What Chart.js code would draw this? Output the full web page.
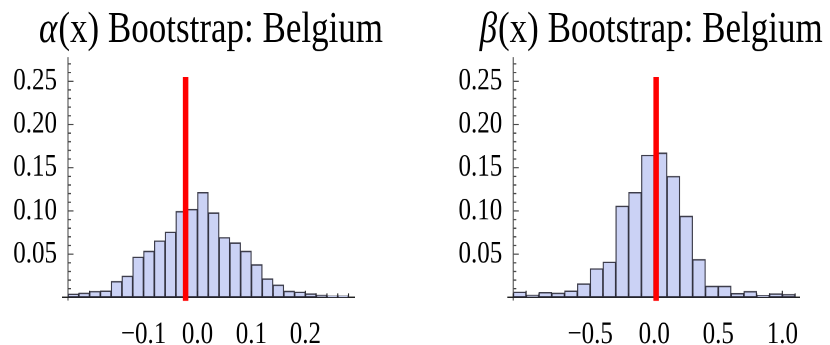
<!DOCTYPE html>
<html>
<head>
<meta charset="utf-8">
<script src="https://cdn.jsdelivr.net/npm/chart.js@4.4.0/dist/chart.umd.min.js"></script>
<style>
  html, body { margin: 0; padding: 0; background: #ffffff; }
  body { width: 830px; height: 345px; position: relative; overflow: hidden; }
  .wrap { position: absolute; top: 0; width: 415px; height: 276px; transform: scaleY(1.25); transform-origin: 0 0; }
  canvas { display: block; }
</style>
</head>
<body>
<div class="wrap" style="left:0px"><canvas id="alphaChart" width="415" height="276"></canvas></div>
<div class="wrap" style="left:415px"><canvas id="betaChart" width="415" height="276"></canvas></div>
<script>
// ---- data ----
const alphaBins = [-0.23,-0.21,-0.19,-0.17,-0.15,-0.13,-0.11,-0.09,-0.07,-0.05,-0.03,-0.01,0.01,0.03,0.05,0.07,0.09,0.11,0.13,0.15,0.17,0.19,0.21,0.23,0.25,0.27];
const alphaFreq = [0.0040,0.0050,0.0070,0.0077,0.0185,0.0247,0.0467,0.0536,0.0656,0.0756,0.0995,0.1020,0.1215,0.0980,0.0694,0.0633,0.0536,0.0380,0.0216,0.0143,0.0073,0.0062,0.0042,0.0027,0.0019,0.0019];
const betaBins = [-1.05,-0.95,-0.85,-0.75,-0.65,-0.55,-0.45,-0.35,-0.25,-0.15,-0.05,0.05,0.15,0.25,0.35,0.45,0.55,0.65,0.75,0.85,0.95,1.05];
const betaFreq = [0.0062,0.0027,0.0058,0.0050,0.0077,0.0158,0.0332,0.0409,0.1057,0.1215,0.1644,0.1670,0.1400,0.0940,0.0440,0.0131,0.0131,0.0046,0.0069,0.0023,0.0042,0.0035];
const alphaRef = -0.022;
const betaRef = 0.015;
const refLineSpan = [-0.004, 0.255];

const yTickLabels = [0.05, 0.10, 0.15, 0.20, 0.25];
const yMinorTicks = [0.01,0.02,0.03,0.04,0.06,0.07,0.08,0.09,0.11,0.12,0.13,0.14,0.16,0.17,0.18,0.19,0.21,0.22,0.23,0.24,0.26,0.27];
const alphaTickLabels = [-0.1, 0.0, 0.1, 0.2];
const alphaMajorTicks = [-0.2, -0.1, 0.0, 0.1, 0.2];
const alphaMinorTicks = [-0.22,-0.18,-0.16,-0.14,-0.12,-0.08,-0.06,-0.04,-0.02,0.02,0.04,0.06,0.08,0.12,0.14,0.16,0.18,0.22,0.24,0.26,0.28];
const betaTickLabels = [-0.5, 0.0, 0.5, 1.0];
const betaMajorTicks = [-1.0, -0.5, 0.0, 0.5, 1.0];
const betaMinorTicks = [-1.1,-0.9,-0.8,-0.7,-0.6,-0.4,-0.3,-0.2,-0.1,0.1,0.2,0.3,0.4,0.6,0.7,0.8,0.9,1.1];

const alphaTitle = ['α', '(x) Bootstrap: Belgium'];
const betaTitle = ['β', '(x) Bootstrap: Belgium'];

// ---- plugin: Mathematica-style axes and title ----
const mmaPlugin = {
  id: 'mma',
  beforeDatasetsDraw(chart, args, o) {
    const { ctx, chartArea: a, scales: { x, y } } = chart;
    ctx.save();
    // y axis
    ctx.strokeStyle = '#777777';
    ctx.lineWidth = 1.4;
    ctx.beginPath();
    ctx.moveTo(a.left, a.top);
    ctx.lineTo(a.left, a.bottom + 2.5);
    ctx.stroke();
    ctx.strokeStyle = '#444444';
    ctx.lineWidth = 1;
    o.yMinor.forEach(v => {
      const p = y.getPixelForValue(v);
      ctx.beginPath(); ctx.moveTo(a.left, p); ctx.lineTo(a.left + 3, p); ctx.stroke();
    });
    o.yMajor.forEach(v => {
      const p = y.getPixelForValue(v);
      ctx.beginPath(); ctx.moveTo(a.left, p); ctx.lineTo(a.left + 5.5, p); ctx.stroke();
    });
    // x axis
    ctx.strokeStyle = '#222222';
    ctx.lineWidth = 1.3;
    ctx.beginPath();
    ctx.moveTo(a.left - 6, a.bottom);
    ctx.lineTo(a.right, a.bottom);
    ctx.stroke();
    ctx.lineWidth = 1.1;
    o.xMinor.forEach(v => {
      const p = x.getPixelForValue(v);
      ctx.beginPath(); ctx.moveTo(p, a.bottom); ctx.lineTo(p, a.bottom - 3.2); ctx.stroke();
    });
    o.xMajor.forEach(v => {
      const p = x.getPixelForValue(v);
      ctx.beginPath(); ctx.moveTo(p, a.bottom); ctx.lineTo(p, a.bottom - 5.4); ctx.stroke();
    });
    ctx.restore();
  },
  afterDraw(chart, args, o) {
    const { ctx, chartArea: a } = chart;
    ctx.save();
    const fItal = 'italic 35px "Liberation Serif"';
    const fNorm = '35px "Liberation Serif"';
    ctx.font = fItal;
    const w1 = ctx.measureText(o.title[0]).width;
    ctx.font = fNorm;
    const w2 = ctx.measureText(o.title[1]).width;
    const cx = (a.left + a.right) / 2 + o.titleShift;
    let x0 = cx - (w1 + w2) / 2;
    ctx.fillStyle = '#000000';
    ctx.textBaseline = 'alphabetic';
    ctx.textAlign = 'left';
    ctx.font = fItal;
    ctx.fillText(o.title[0], x0, 33.6);
    ctx.font = fNorm;
    ctx.fillText(o.title[1], x0 + w1 + 1, 33.6);
    ctx.restore();
  }
};

function fmtX(v) {
  const s = Math.abs(v).toFixed(1);
  return v < -1e-9 ? '\u2212' + s : s;
}

function makeChart(id, bins, freq, ref, xmin, xmax, labels, majors, minors, title, yAxisWidth, padRight, titleShift) {
  const tickFont = { family: '"Liberation Serif"', size: 25 };
  return new Chart(document.getElementById(id), {
    type: 'bar',
    data: {
      datasets: [
        {
          type: 'line',
          order: 0,
          data: refLineSpan.map(v => ({ x: ref, y: v })),
          borderColor: '#ff0000',
          borderWidth: 5.5,
          pointRadius: 0,
          clip: false,
          fill: false
        },
        {
          type: 'bar',
          order: 1,
          data: bins.map((b, i) => ({ x: b, y: freq[i] })),
          backgroundColor: '#cbd2f5',
          borderColor: 'rgba(40,40,55,0.9)',
          borderWidth: 1.2,
          borderSkipped: false,
          barPercentage: 1.0,
          categoryPercentage: 1.0,
          grouped: false
        }
      ]
    },
    options: {
      responsive: false,
      animation: false,
      devicePixelRatio: 2,
      layout: { padding: { top: 45.6, right: padRight, bottom: 0, left: 0 } },
      plugins: {
        legend: { display: false },
        tooltip: { enabled: false },
        mma: { yMajor: yTickLabels, yMinor: yMinorTicks, xMajor: majors, xMinor: minors, title: title, titleShift: titleShift }
      },
      scales: {
        x: {
          type: 'linear',
          min: xmin,
          max: xmax,
          offset: false,
          grid: { display: false, drawTicks: false },
          border: { display: false },
          afterBuildTicks: s => { s.ticks = labels.map(v => ({ value: v })); },
          afterFit: s => { s.height = 38.1; },
          ticks: { font: tickFont, color: '#000000', padding: 15, autoSkip: false, maxRotation: 0, callback: v => fmtX(v) }
        },
        y: {
          type: 'linear',
          min: 0,
          max: 0.278,
          grid: { display: false, drawTicks: false },
          border: { display: false },
          afterBuildTicks: s => { s.ticks = yTickLabels.map(v => ({ value: v })); },
          afterFit: s => { s.width = yAxisWidth; },
          ticks: { font: tickFont, color: '#000000', padding: 11, autoSkip: false, callback: v => v.toFixed(2) }
        }
      }
    },
    plugins: [mmaPlugin]
  });
}

makeChart('alphaChart', alphaBins, alphaFreq, alphaRef, -0.24, 0.292, alphaTickLabels, alphaMajorTicks, alphaMinorTicks, alphaTitle, 68, 60, -1);
makeChart('betaChart', betaBins, betaFreq, betaRef, -1.1, 1.138, betaTickLabels, betaMajorTicks, betaMinorTicks, betaTitle, 98.3, 30, -6);
</script>
</body>
</html>
